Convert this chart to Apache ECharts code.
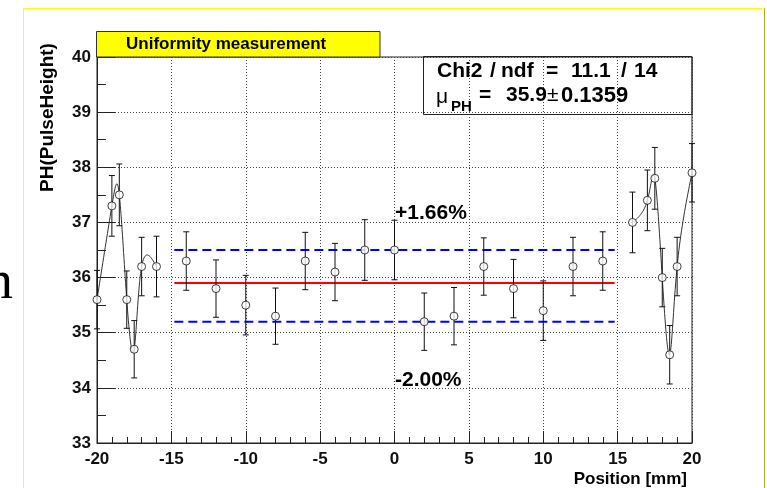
<!DOCTYPE html>
<html>
<head>
<meta charset="utf-8">
<script src="https://cdn.jsdelivr.net/npm/echarts@6/dist/echarts.min.js"></script>
<style>
  html, body { margin: 0; padding: 0; background: #fff; }
  #mainChart { width: 767px; height: 488px; }
</style>
</head>
<body>
<div id="mainChart"></div>
<script>
// measured points: left edge scan, central scan, right edge scan
var leftX = [-20, -19, -18.5, -18, -17.5, -17, -16];
var leftY = [35.6, 37.3, 37.5, 35.6, 34.7, 36.2, 36.2];
var leftErr = [0.53, 0.55, 0.56, 0.52, 0.52, 0.53, 0.55];

var midX = [-14, -12, -10, -8, -6, -4, -2, 0, 2, 4, 6, 8, 10, 12, 14];
var midY = [36.3, 35.8, 35.5, 35.3, 36.3, 36.1, 36.5, 36.5, 35.2, 35.3, 36.2, 35.8, 35.4, 36.2, 36.3];
var midErr = [0.53, 0.52, 0.54, 0.51, 0.52, 0.52, 0.55, 0.54, 0.52, 0.52, 0.52, 0.53, 0.54, 0.53, 0.53];

var rightX = [16, 17, 17.5, 18, 18.5, 19, 20];
var rightY = [37.0, 37.4, 37.8, 36.0, 34.6, 36.2, 37.9];
var rightErr = [0.55, 0.55, 0.56, 0.53, 0.53, 0.53, 0.53];

// fit result
var fitRange = [-14.8, 14.8];
var fitMean = 35.9;
var fitUp = 36.5;   // +1.66%
var fitDown = 35.2; // -2.00%

var font = "'Liberation Sans', Arial, sans-serif";

function pairs(xs, ys) {
    var out = [];
    for (var i = 0; i < xs.length; i++) out.push([xs[i], ys[i]]);
    return out;
}
function triples(xs, ys, es) {
    var out = [];
    for (var i = 0; i < xs.length; i++) out.push([xs[i], ys[i], es[i]]);
    return out;
}

// natural cubic spline second derivatives (uniform parameter)
function secondDerivs(v) {
    var n = v.length, m = [], c = [], d = [];
    for (var k = 0; k < n; k++) m.push(0);
    if (n < 3) return m;
    for (var i = 1; i < n - 1; i++) {
        var r = 6 * (v[i - 1] - 2 * v[i] + v[i + 1]);
        var den = i === 1 ? 4 : 4 - c[i - 1];
        c[i] = 1 / den;
        d[i] = (r - (i === 1 ? 0 : d[i - 1])) / den;
    }
    for (i = n - 2; i >= 1; i--) m[i] = d[i] - c[i] * m[i + 1];
    return m;
}

function splineRender(xs, ys) {
    return function (params, api) {
        if (params.dataIndex !== 0) return;
        var px = [], py = [];
        for (var i = 0; i < xs.length; i++) {
            var p = api.coord([xs[i], ys[i]]);
            px.push(p[0]); py.push(p[1]);
        }
        var mx = secondDerivs(px), my = secondDerivs(py);
        var pts = [];
        for (i = 0; i < px.length - 1; i++) {
            for (var s = 0; s <= 20; s++) {
                var t = s / 20, u = 1 - t;
                pts.push([
                    u * px[i] + t * px[i + 1] + (u * u * u - u) * mx[i] / 6 + (t * t * t - t) * mx[i + 1] / 6,
                    u * py[i] + t * py[i + 1] + (u * u * u - u) * my[i] / 6 + (t * t * t - t) * my[i + 1] / 6
                ]);
            }
        }
        return {
            type: 'polyline',
            shape: { points: pts },
            style: { stroke: '#333', lineWidth: 1, fill: null }
        };
    };
}

function errorRender(params, api) {
    var x = api.value(0), y = api.value(1), e = api.value(2);
    var top = api.coord([x, y + e]);
    var bot = api.coord([x, y - e]);
    var ls = { stroke: '#111', lineWidth: 1 };
    return {
        type: 'group',
        children: [
            { type: 'line', shape: { x1: top[0], y1: top[1], x2: bot[0], y2: bot[1] }, style: ls },
            { type: 'line', shape: { x1: top[0] - 3, y1: top[1], x2: top[0] + 3, y2: top[1] }, style: ls },
            { type: 'line', shape: { x1: bot[0] - 3, y1: bot[1], x2: bot[0] + 3, y2: bot[1] }, style: ls }
        ]
    };
}

function label(text, x, y, f, extra) {
    var st = { text: text, x: x, y: y, verticalAlign: 'middle', font: f, fill: '#000' };
    for (var k in extra) st[k] = extra[k];
    return { type: 'text', style: st, z: 11 };
}

var allErr = triples(leftX, leftY, leftErr)
    .concat(triples(midX, midY, midErr))
    .concat(triples(rightX, rightY, rightErr));
var allPts = pairs(leftX, leftY).concat(pairs(midX, midY)).concat(pairs(rightX, rightY));

var b21 = 'bold 21px ' + font;

var n = echarts.init(document.getElementById("mainChart"));
n.setOption({
    backgroundColor: "#fff",
    animation: false,
    grid: {
        left: 97, right: 75, top: 57, bottom: 45,
        show: true, borderColor: '#222', borderWidth: 1
    },
    xAxis: {
        type: 'value', min: -20, max: 20, interval: 5,
        axisLine: { onZero: false, lineStyle: { color: '#222', width: 1 } },
        axisTick: { inside: true, length: 12, lineStyle: { color: '#222' } },
        minorTick: { show: true, splitNumber: 5, length: 6, lineStyle: { color: '#222' } },
        splitLine: { show: true, lineStyle: { color: '#444', type: [1, 2] } },
        axisLabel: { color: '#111', fontSize: 17, fontWeight: 'bold', fontFamily: font, margin: 8 }
    },
    yAxis: {
        type: 'value', min: 33, max: 40, interval: 1,
        axisLine: { show: true, onZero: false, lineStyle: { color: '#222', width: 1 } },
        axisTick: { show: true, inside: true, length: 18, lineStyle: { color: '#222' } },
        minorTick: { show: true, splitNumber: 2, length: 9, lineStyle: { color: '#222' } },
        splitLine: { show: true, lineStyle: { color: '#444', type: [1, 2] } },
        axisLabel: { color: '#111', fontSize: 17, fontWeight: 'bold', fontFamily: font, margin: 6 }
    },
    series: [
        {
            type: 'line', data: [[fitRange[0], fitUp], [fitRange[1], fitUp]], symbol: 'none', silent: true,
            lineStyle: { color: '#0000ff', width: 2, type: [9, 5] }, z: 3
        },
        {
            type: 'line', data: [[fitRange[0], fitDown], [fitRange[1], fitDown]], symbol: 'none', silent: true,
            lineStyle: { color: '#0000ff', width: 2, type: [9, 5] }, z: 3
        },
        {
            type: 'line', data: [[fitRange[0], fitMean], [fitRange[1], fitMean]], symbol: 'none', silent: true,
            lineStyle: { color: '#ff0000', width: 2 }, z: 3
        },
        { type: 'custom', data: pairs(leftX, leftY), renderItem: splineRender(leftX, leftY), silent: true, z: 4 },
        { type: 'custom', data: pairs(rightX, rightY), renderItem: splineRender(rightX, rightY), silent: true, z: 4 },
        { type: 'custom', data: allErr, renderItem: errorRender, silent: true, z: 5 },
        {
            type: 'scatter', data: allPts, symbol: 'circle', symbolSize: 8, silent: true, z: 6,
            itemStyle: { color: '#fff', borderColor: '#111', borderWidth: 1 }
        }
    ],
    graphic: [
        // outer frame
        { type: 'line', shape: { x1: 23.5, y1: 8.5, x2: 764.5, y2: 8.5 }, style: { stroke: '#ffff00', lineWidth: 1 } },
        { type: 'line', shape: { x1: 23.5, y1: 8.5, x2: 23.5, y2: 488 }, style: { stroke: '#ffff00', lineWidth: 1 } },
        { type: 'line', shape: { x1: 764.5, y1: 8.5, x2: 764.5, y2: 488 }, style: { stroke: '#a8a830', lineWidth: 1 } },
        label('n', 13, 284, '55px "Liberation Serif", serif', { align: 'right' }),
        // title box
        { type: 'rect', shape: { x: 96.5, y: 31.5, width: 283.5, height: 25.5 }, style: { fill: '#ffff00', stroke: '#333', lineWidth: 1 }, z: 10 },
        label('Uniformity measurement', 126, 44, 'bold 17px ' + font),
        // stats box
        { type: 'rect', shape: { x: 423.5, y: 56.5, width: 268.5, height: 58 }, style: { fill: null, stroke: '#222', lineWidth: 1 }, z: 10 },
        label('Chi2', 437, 71.5, b21),
        label('/', 490, 71.5, b21),
        label('ndf', 501, 71.5, b21),
        label('=', 546, 71.5, b21),
        label('11.1', 571, 71.5, b21),
        label('/', 621, 71.5, b21),
        label('14', 634, 71.5, b21),
        label('μ', 436, 97, '21px ' + font),
        label('PH', 451, 106.5, 'bold 15px ' + font),
        label('=', 479, 95.5, b21),
        label('35.9', 506, 95.5, b21),
        label('±', 547, 95.5, '21px ' + font),
        label('0.1359', 561, 95.5, 'bold 22px ' + font),
        // band labels
        label('+1.66%', 395, 213, b21),
        label('-2.00%', 395, 380, b21),
        // axis titles
        label('Position [mm]', 687, 479, 'bold 17px ' + font, { align: 'right' }),
        { type: 'text', x: 48, y: 117.5, rotation: Math.PI / 2, style: { text: 'PH(PulseHeight)', x: 0, y: 0, align: 'center', verticalAlign: 'middle', font: 'bold 19px ' + font, fill: '#000' }, z: 11 }
    ]
});
</script>
</body>
</html>
